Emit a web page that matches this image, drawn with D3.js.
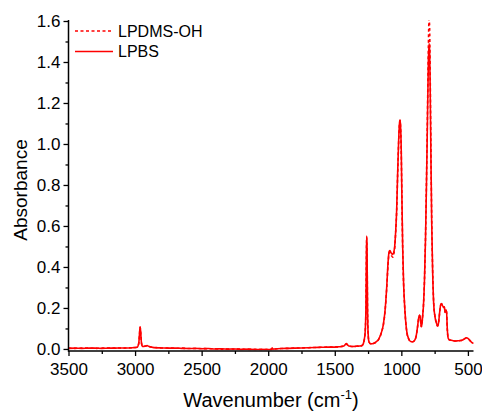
<!DOCTYPE html>
<html>
<head>
<meta charset="utf-8">
<script src="https://cdn.jsdelivr.net/npm/d3@7"></script>
<style>
  html, body { margin: 0; padding: 0; background: #fff; }
  svg { display: block; font-family: "Liberation Sans", Arial, sans-serif; }
</style>
</head>
<body>
<div id="chart"></div>
<script>
// wavenumber (cm-1)
const wavenumbers = [
  3500, 3450, 3400, 3350, 3300, 3250, 3200, 3150, 3100, 3050, 3020, 2985, 2972, 2966, 2962, 2958, 2952, 2944,
  2925, 2910, 2895, 2870, 2850, 2800, 2750, 2700, 2650, 2600, 2550, 2500, 2450, 2400, 2350, 2300, 2250, 2200,
  2150, 2100, 2050, 2000, 1975, 1970, 1965, 1950, 1900, 1850, 1800, 1750, 1700, 1650, 1600, 1550, 1500, 1480,
  1450, 1430, 1420, 1412, 1405, 1395, 1370, 1340, 1320, 1300, 1290, 1280, 1272, 1266, 1262, 1260, 1257, 1254,
  1249, 1243, 1230, 1210, 1190, 1170, 1150, 1135, 1122, 1110, 1100, 1092, 1085, 1078, 1070, 1064, 1058, 1050,
  1042, 1035, 1028, 1020, 1014, 1010, 1006, 1001, 996, 990, 983, 976, 968, 958, 945, 930, 915, 900,
  888, 878, 870, 863, 857, 851, 846, 840, 835, 826, 818, 810, 803, 797, 792, 788, 783, 778,
  772, 765, 757, 748, 738, 728, 720, 712, 705, 698, 690, 683, 677, 672, 667, 661, 655, 648,
  640, 625, 610, 592, 575, 555, 540, 525, 510, 500, 490, 478, 468, 458
];

const lpbs = [
  .003, .004, .003, .004, .004, .003, .004, .004, .005, .005, .006, .008, .030, .080, .108, .085, .030, .012,
  .014, .016, .012, .008, .006, .005, .004, .004, .003, .002, .003, .001, .002, .000, .001, -.001, .000, -.002,
  -.001, -.003, -.002, -.003, -.002, .004, -.001, .000, .002, .003, .004, .005, .006, .007, .008, .009, .009, .010,
  .012, .015, .022, .026, .020, .014, .012, .013, .014, .015, .020, .040, .080, .200, .480, .551, .450, .200,
  .070, .035, .025, .027, .034, .048, .080, .120, .190, .300, .420, .475, .480, .470, .463, .462, .470, .500,
  .580, .680, .850, 1.020, 1.100, 1.117, 1.090, .980, .750, .500, .320, .220, .140, .080, .050, .036, .035, .042,
  .065, .110, .150, .166, .150, .110, .118, .160, .200, .340, .550, .850, 1.150, 1.400, 1.490, 1.460, 1.250, .950,
  .620, .380, .220, .160, .130, .112, .130, .180, .215, .222, .210, .205, .206, .180, .190, .190, .100, .052,
  .045, .042, .040, .039, .040, .041, .044, .050, .055, .052, .045, .036, .030, .028
];

const lpdmsOH = [
  .004, .003, .004, .004, .003, .004, .004, .005, .004, .005, .006, .008, .028, .078, .106, .083, .030, .012,
  .013, .015, .012, .008, .007, .005, .005, .003, .004, .002, .002, .002, .001, .001, -.001, .000, -.001, -.001,
  -.002, -.002, -.003, -.002, -.002, .003, .000, .000, .002, .003, .004, .005, .006, .007, .008, .009, .010, .010,
  .012, .015, .021, .025, .020, .014, .012, .013, .014, .016, .020, .040, .078, .195, .470, .545, .445, .198,
  .068, .034, .025, .027, .033, .047, .078, .118, .185, .295, .410, .468, .472, .460, .452, .448, .460, .492,
  .575, .675, .845, 1.015, 1.098, 1.115, 1.088, .975, .745, .495, .318, .218, .138, .079, .049, .036, .035, .042,
  .064, .108, .148, .163, .148, .108, .118, .160, .200, .340, .560, .870, 1.180, 1.470, 1.610, 1.580, 1.320, .990,
  .640, .390, .225, .162, .130, .112, .130, .178, .213, .220, .208, .203, .204, .178, .188, .188, .098, .052,
  .045, .042, .040, .039, .040, .041, .044, .050, .055, .052, .045, .036, .030, .028
];

const xTicks = [3500, 3000, 2500, 2000, 1500, 1000, 500];
const xMinorTicks = [3250, 2750, 2250, 1750, 1250, 750];
const yTicks = [0.0, 0.2, 0.4, 0.6, 0.8, 1.0, 1.2, 1.4, 1.6];
const yMinorTicks = [0.1, 0.3, 0.5, 0.7, 0.9, 1.1, 1.3, 1.5];

const series = [
  { name: "LPDMS-OH", values: lpdmsOH, dash: "3,2.5" },
  { name: "LPBS", values: lpbs, dash: null }
];

const width = 482, height = 412;
const plotLeft = 68.5, plotRight = 473.5, plotTop = 21, plotBottom = 351;

const svg = d3.select("#chart").append("svg")
  .attr("width", width)
  .attr("height", height);

const x = d3.scaleLinear().domain([3500, 458]).range([plotLeft, plotRight]);
const y = d3.scaleLinear().domain([-0.01, 1.6]).range([plotBottom, plotTop]);

svg.append("defs").append("clipPath").attr("id", "plot")
  .append("rect")
  .attr("x", plotLeft).attr("y", plotTop - 0.5)
  .attr("width", plotRight - plotLeft).attr("height", plotBottom - plotTop);

const line = d3.line()
  .x(d => x(d[0]))
  .y(d => y(d[1]))
  .curve(d3.curveMonotoneX);

const plot = svg.append("g").attr("clip-path", "url(#plot)");
series.forEach(s => {
  plot.append("path")
    .datum(wavenumbers.map((w, i) => [w, s.values[i]]))
    .attr("fill", "none")
    .attr("stroke", "#ff0000")
    .attr("stroke-width", 1.6)
    .attr("stroke-dasharray", s.dash)
    .attr("stroke-linejoin", "round")
    .attr("d", line);
});

// axes
const xAxis = svg.append("g")
  .attr("transform", `translate(0,${plotBottom})`)
  .call(d3.axisBottom(x).tickValues(xTicks).tickSize(5).tickSizeOuter(0).tickFormat(d3.format("d")));
const xMinor = svg.append("g")
  .attr("transform", `translate(0,${plotBottom})`)
  .call(d3.axisBottom(x).tickValues(xMinorTicks).tickSize(3).tickFormat(""));
const yAxis = svg.append("g")
  .attr("transform", `translate(${plotLeft},0)`)
  .call(d3.axisLeft(y).tickValues(yTicks).tickSize(5).tickSizeOuter(0).tickFormat(d3.format(".1f")));
const yMinor = svg.append("g")
  .attr("transform", `translate(${plotLeft},0)`)
  .call(d3.axisLeft(y).tickValues(yMinorTicks).tickSize(3).tickFormat(""));

[xAxis, xMinor, yAxis, yMinor].forEach(g => {
  g.select(".domain").remove();
  g.selectAll(".tick line").attr("stroke", "#000").attr("stroke-width", 1.3);
  g.selectAll(".tick text")
    .attr("fill", "#000")
    .attr("font-family", "Liberation Sans, Arial, sans-serif")
    .attr("font-size", 17);
});
xAxis.selectAll(".tick text").attr("dy", "0.95em").attr("y", 8);
yAxis.selectAll(".tick text").attr("x", -8).attr("dy", "0.35em");

svg.append("line")
  .attr("x1", plotLeft).attr("x2", plotRight)
  .attr("y1", plotBottom).attr("y2", plotBottom)
  .attr("stroke", "#000").attr("stroke-width", 1.5);
svg.append("line")
  .attr("x1", plotLeft).attr("x2", plotLeft)
  .attr("y1", plotTop - 1).attr("y2", plotBottom + 0.75)
  .attr("stroke", "#000").attr("stroke-width", 1.5);

// axis titles
const xTitle = svg.append("text")
  .attr("x", (plotLeft + plotRight) / 2)
  .attr("y", 407)
  .attr("text-anchor", "middle")
  .attr("font-size", 20)
  .attr("fill", "#000");
xTitle.append("tspan").text("Wavenumber (cm");
xTitle.append("tspan").attr("font-size", 13).attr("dy", -8).text("-1");
xTitle.append("tspan").attr("dy", 8).text(")");

svg.append("text")
  .attr("transform", "translate(27,190) rotate(-90)")
  .attr("text-anchor", "middle")
  .attr("font-size", 19)
  .attr("fill", "#000")
  .text("Absorbance");

// legend
const legend = svg.append("g").attr("transform", "translate(75,31)");
series.forEach((s, i) => {
  const row = legend.append("g").attr("transform", `translate(0,${i * 20.5})`);
  row.append("line")
    .attr("x1", 0).attr("x2", 38)
    .attr("stroke", "#ff0000")
    .attr("stroke-width", 1.6)
    .attr("stroke-dasharray", s.dash);
  row.append("text")
    .attr("x", 43)
    .attr("dy", "0.36em")
    .attr("font-size", 16)
    .attr("fill", "#000")
    .text(s.name);
});
</script>
</body>
</html>
